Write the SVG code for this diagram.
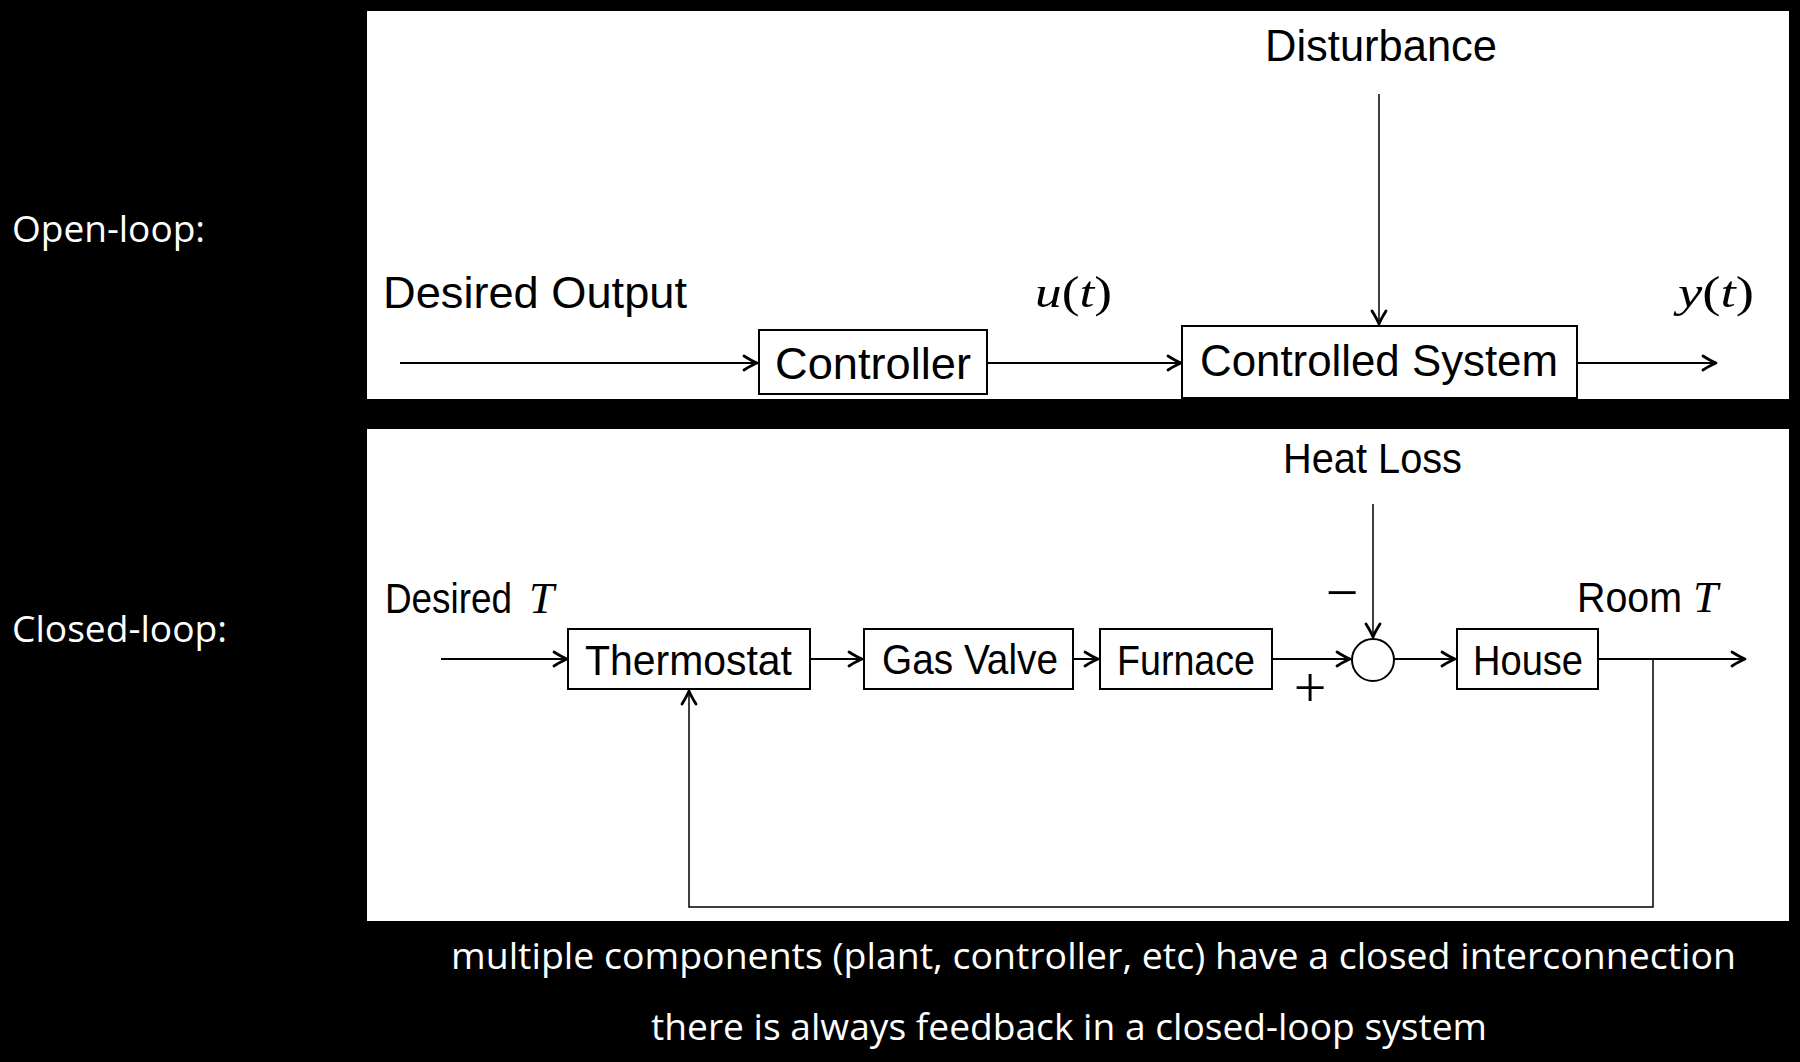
<svg xmlns="http://www.w3.org/2000/svg" width="1800" height="1062" viewBox="0 0 1800 1062">
<defs>
<style>
.bg{fill:#000}
.panel{fill:#fff}
.box{fill:#fff;stroke:#000;stroke-width:2}
.ln{fill:none;stroke:#000;stroke-width:2}
.thin{fill:none;stroke:#000;stroke-width:1.5}
.cm{font-family:"Liberation Sans",Arial,sans-serif;fill:#000}
.mi{font-family:"Liberation Serif","Times New Roman",serif;font-style:italic}
.mu{font-family:"Liberation Serif","Times New Roman",serif;font-style:normal}
.sym{font-family:"Liberation Serif","Times New Roman",serif;fill:#000;font-size:58px;text-anchor:middle}
.cal{font-family:"Open Sans","Noto Sans",sans-serif;fill:#fff}
</style>
<marker id="arr" markerUnits="userSpaceOnUse" markerWidth="24" markerHeight="24" viewBox="-18 -12 24 24" refX="0" refY="0" orient="auto">
<path d="M-13,-7 Q-5,-2 0,0 Q-5,2 -13,7" fill="none" stroke="#000" stroke-width="2.8" stroke-linecap="round" stroke-linejoin="round"/>
</marker>
</defs>
<rect class="bg" x="0" y="0" width="1800" height="1062"/>
<rect class="panel" x="367" y="11" width="1422" height="388"/>
<rect class="panel" x="367" y="429" width="1422" height="492"/>

<text class="cal" x="12" y="242" font-size="37" textLength="193" lengthAdjust="spacingAndGlyphs">Open-loop:</text>
<text class="cal" x="12" y="642" font-size="37" textLength="215" lengthAdjust="spacingAndGlyphs">Closed-loop:</text>

<g id="connectors">
<path class="ln" d="M400,363 H757" marker-end="url(#arr)"/>
<path class="ln" d="M987,363 H1181" marker-end="url(#arr)"/>
<path class="ln" d="M1577,363 H1716" marker-end="url(#arr)"/>
<path class="thin" d="M1379,94 V324" marker-end="url(#arr)"/>
<path class="ln" d="M441,659 H567" marker-end="url(#arr)"/>
<path class="ln" d="M810,659 H862" marker-end="url(#arr)"/>
<path class="ln" d="M1073,659 H1098" marker-end="url(#arr)"/>
<path class="ln" d="M1272,659 H1350" marker-end="url(#arr)"/>
<path class="ln" d="M1394,659 H1455" marker-end="url(#arr)"/>
<path class="ln" d="M1598,659 H1745" marker-end="url(#arr)"/>
<path class="thin" d="M1373,504 V637" marker-end="url(#arr)"/>
<path class="thin" d="M1653,659 V907 H689 V691" marker-end="url(#arr)"/>
</g>

<g id="label-desired-output"><text class="cm" x="383" y="308" font-size="44" textLength="304" lengthAdjust="spacingAndGlyphs">Desired Output</text></g>
<g id="label-disturbance"><text class="cm" x="1265" y="61" font-size="44" textLength="232" lengthAdjust="spacingAndGlyphs">Disturbance</text></g>
<g id="label-u"><text class="cm" x="1035" y="307" font-size="45" textLength="77" lengthAdjust="spacingAndGlyphs"><tspan class="mi">u</tspan><tspan class="mu">(</tspan><tspan class="mi">t</tspan><tspan class="mu">)</tspan></text></g>
<g id="label-y"><text class="cm" x="1678" y="307" font-size="45" textLength="76" lengthAdjust="spacingAndGlyphs"><tspan class="mi">y</tspan><tspan class="mu">(</tspan><tspan class="mi">t</tspan><tspan class="mu">)</tspan></text></g>

<g id="controller">
<rect class="box" x="759" y="330" width="228" height="64"/>
<text class="cm" x="775" y="379" font-size="44" textLength="196" lengthAdjust="spacingAndGlyphs">Controller</text>
</g>
<g id="controlled-system">
<rect class="box" x="1182" y="326" width="395" height="72"/>
<text class="cm" x="1200" y="376" font-size="44" textLength="358" lengthAdjust="spacingAndGlyphs">Controlled System</text>
</g>

<g id="label-heat-loss"><text class="cm" x="1283" y="473" font-size="42" textLength="179" lengthAdjust="spacingAndGlyphs">Heat Loss</text></g>
<g id="label-desired-t"><text class="cm" x="385" y="613" font-size="42"><tspan textLength="127" lengthAdjust="spacingAndGlyphs">Desired</tspan><tspan class="mi" x="529" font-size="45">T</tspan></text></g>
<g id="label-room-t"><text class="cm" x="1577" y="612" font-size="42"><tspan textLength="105" lengthAdjust="spacingAndGlyphs">Room</tspan><tspan class="mi" x="1693" font-size="45">T</tspan></text></g>

<g id="thermostat">
<rect class="box" x="568" y="629" width="242" height="60"/>
<text class="cm" x="585" y="675" font-size="42" textLength="207" lengthAdjust="spacingAndGlyphs">Thermostat</text>
</g>
<g id="gas-valve">
<rect class="box" x="864" y="629" width="209" height="60"/>
<text class="cm" x="882" y="674" font-size="42" textLength="176" lengthAdjust="spacingAndGlyphs">Gas Valve</text>
</g>
<g id="furnace">
<rect class="box" x="1100" y="629" width="172" height="60"/>
<text class="cm" x="1117" y="675" font-size="42" textLength="138" lengthAdjust="spacingAndGlyphs">Furnace</text>
</g>
<g id="summing-junction">
<circle cx="1373" cy="660" r="21" fill="#fff" stroke="#000" stroke-width="2"/>
<text class="sym" x="1342" y="612">−</text>
<text class="sym" x="1310" y="707">+</text>
</g>
<g id="house">
<rect class="box" x="1457" y="629" width="141" height="60"/>
<text class="cm" x="1473" y="675" font-size="42" textLength="110" lengthAdjust="spacingAndGlyphs">House</text>
</g>

<text class="cal" x="451" y="969" font-size="36" textLength="1285" lengthAdjust="spacingAndGlyphs">multiple components (plant, controller, etc) have a closed interconnection</text>
<text class="cal" x="651" y="1040" font-size="36" textLength="836" lengthAdjust="spacingAndGlyphs">there is always feedback in a closed-loop system</text>
</svg>
